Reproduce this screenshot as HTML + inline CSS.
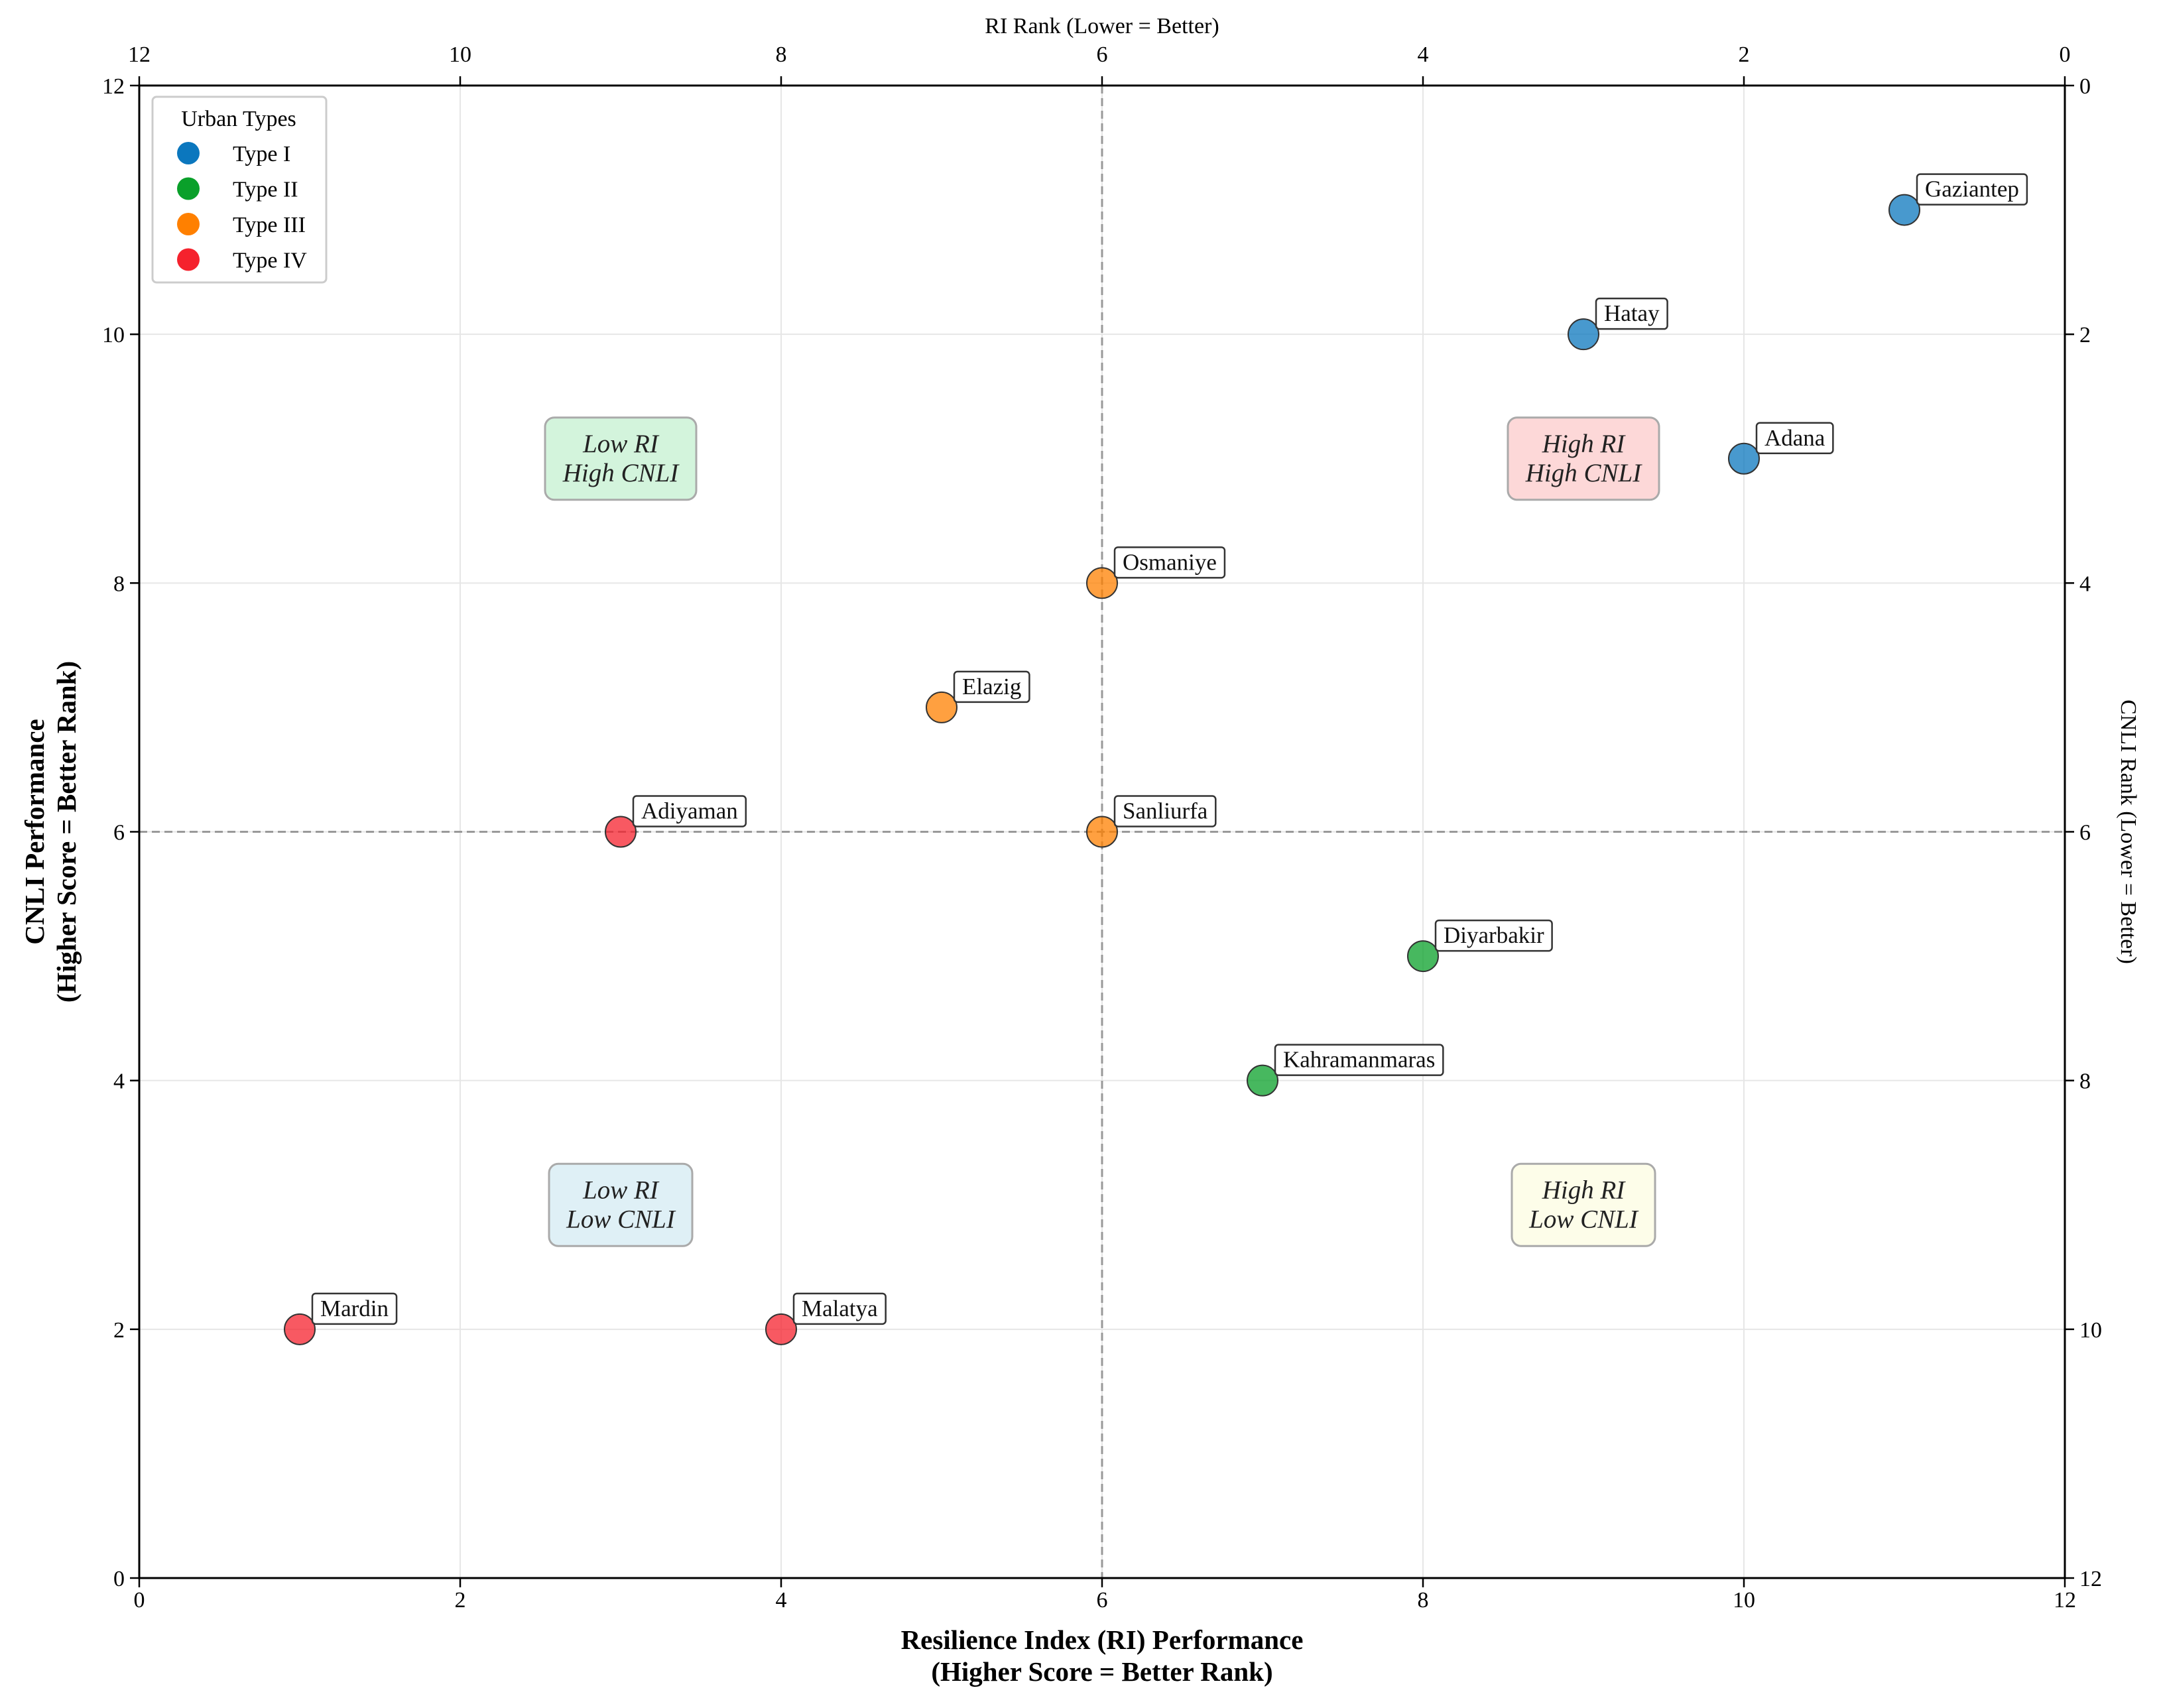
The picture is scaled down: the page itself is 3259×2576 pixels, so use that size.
<!DOCTYPE html>
<html><head><meta charset="utf-8"><style>
html,body{margin:0;padding:0;background:#fff}
svg{display:block;font-family:"Liberation Serif",serif}
</style></head><body>
<svg id="chart" width="3259" height="2576" viewBox="0 0 3259 2576" xmlns="http://www.w3.org/2000/svg"></svg>
<script>
const cities = ["Gaziantep","Hatay","Adana","Osmaniye","Elazig","Sanliurfa","Adiyaman","Diyarbakir","Kahramanmaras","Mardin","Malatya"];
const riScore = [11,9,10,6,5,6,3,8,7,1,4];
const cnliScore = [11,10,9,8,7,6,6,5,4,2,2];
const urbanType = [0,0,0,2,2,2,3,1,1,3,3];
const typeNames = ["Type I","Type II","Type III","Type IV"];
const typeColors = ["#0b77be","#0aa02a","#ff8000","#f5222d"];
const xTicks = [0,2,4,6,8,10,12];
const yTicks = [0,2,4,6,8,10,12];
const topTickLabels = ["12","10","8","6","4","2","0"];
const rightTickLabels = ["12","10","8","6","4","2","0"];

const L=210,R=3114,T=129,B=2380;
const sx=v=>L+(v-0)/(12-0)*(R-L);
const sy=v=>B-(v-0)/(12-0)*(B-T);
const svg=document.getElementById('chart');
const NS="http://www.w3.org/2000/svg";
function el(tag,attrs,parent){const e=document.createElementNS(NS,tag);for(const k in attrs)e.setAttribute(k,attrs[k]);(parent||svg).appendChild(e);return e;}
function txt(s,attrs,parent){const e=el('text',attrs,parent);e.textContent=s;return e;}

const grid=el('g',{});


xTicks.forEach(v=>{const l=el('line',{x1:sx(v),x2:sx(v),y1:T,y2:B,stroke:"#e6e6e6","stroke-width":2},grid);

});
yTicks.forEach(v=>{const l=el('line',{x1:L,x2:R,y1:sy(v),y2:sy(v),stroke:"#e6e6e6","stroke-width":2},grid);

});

const dv=el('line',{x1:sx(6),x2:sx(6),y1:T,y2:B,stroke:"#999","stroke-width":3,"stroke-dasharray":"12,7"});


const dh=el('line',{x1:L,x2:R,y1:sy(6),y2:sy(6),stroke:"#999","stroke-width":3,"stroke-dasharray":"12,7"});



const quads=[
 {x:3,y:9,l1:"Low RI",l2:"High CNLI",fill:"#d3f4dc",w:228,n:"quadrant-low-ri-high-cnli"},
 {x:9,y:9,l1:"High RI",l2:"High CNLI",fill:"#fdd8d8",w:228,n:"quadrant-high-ri-high-cnli"},
 {x:3,y:3,l1:"Low RI",l2:"Low CNLI",fill:"#dff0f6",w:216,n:"quadrant-low-ri-low-cnli"},
 {x:9,y:3,l1:"High RI",l2:"Low CNLI",fill:"#fdfde9",w:216,n:"quadrant-high-ri-low-cnli"}];
quads.forEach(q=>{
 const g=el('g',{});
 
 
 const cx=sx(q.x),cy=sy(q.y);
 el('rect',{x:cx-q.w/2,y:cy-62,width:q.w,height:124,rx:14,fill:q.fill,stroke:"#aaa","stroke-width":3},g);
 txt(q.l1,{x:cx,y:cy-10,"text-anchor":"middle","font-size":39,"font-style":"italic",fill:"#222"},g);
 txt(q.l2,{x:cx,y:cy+34,"text-anchor":"middle","font-size":39,"font-style":"italic",fill:"#222"},g);
});

cities.forEach((c,i)=>{
 const cx=sx(riScore[i]),cy=sy(cnliScore[i]);
 const p=el('circle',{cx:cx,cy:cy,r:23,fill:typeColors[urbanType[i]],"fill-opacity":0.75,stroke:"#333","stroke-width":2});
 
 
 const g=el('g',{});
 
 
 const r=el('rect',{x:cx+19,y:cy-54,width:10,height:46,rx:5,fill:"#fff",stroke:"#333","stroke-width":2.5},g);
 const t=txt(c,{x:cx+31,y:cy-20,"font-size":35,fill:"#111"},g);
 const w=t.getComputedTextLength();
 r.setAttribute('width',w+24);
});

const fr=el('rect',{x:L,y:T,width:R-L,height:B-T,fill:"none",stroke:"#000","stroke-width":3});



xTicks.forEach((v,i)=>{
 el('line',{x1:sx(v),x2:sx(v),y1:B,y2:B+14,stroke:"#000","stroke-width":2.5});
 const t=txt(String(v),{x:sx(v),y:B+44,"text-anchor":"middle","font-size":34});
 
 
 el('line',{x1:sx(v),x2:sx(v),y1:T,y2:T-14,stroke:"#000","stroke-width":2.5});
 const t2=txt(topTickLabels[i],{x:sx(v),y:T-36,"text-anchor":"middle","font-size":34});
 
 
});
yTicks.forEach((v,i)=>{
 el('line',{x1:L,x2:L-14,y1:sy(v),y2:sy(v),stroke:"#000","stroke-width":2.5});
 const t=txt(String(v),{x:L-22,y:sy(v)+12,"text-anchor":"end","font-size":34});
 
 
 el('line',{x1:R,x2:R+14,y1:sy(v),y2:sy(v),stroke:"#000","stroke-width":2.5});
 const t2=txt(rightTickLabels[i],{x:R+22,y:sy(v)+12,"text-anchor":"start","font-size":34});
 
 
});

const xt=txt("Resilience Index (RI) Performance",{x:(L+R)/2,y:2487,"text-anchor":"middle","font-size":41,"font-weight":"bold"});


const xt2=txt("(Higher Score = Better Rank)",{x:(L+R)/2,y:2535,"text-anchor":"middle","font-size":41,"font-weight":"bold"});


const yt=el('text',{transform:"translate(100,"+(T+B)/2+") rotate(-90)","text-anchor":"middle","font-size":41,"font-weight":"bold"});


const ts1=el('tspan',{x:0,y:-34},yt);ts1.textContent="CNLI Performance";
const ts2=el('tspan',{x:0,y:14},yt);ts2.textContent="(Higher Score = Better Rank)";
const tt=txt("RI Rank (Lower = Better)",{x:(L+R)/2,y:50,"text-anchor":"middle","font-size":34});


const rt=txt("CNLI Rank (Lower = Better)",{transform:"translate(3199,"+(T+B)/2+") rotate(90)","text-anchor":"middle","font-size":34});



const lg=el('g',{});


el('rect',{x:230,y:146,width:262,height:280,rx:6,fill:"#fff","fill-opacity":0.9,stroke:"#ccc","stroke-width":3},lg);
txt("Urban Types",{x:360,y:190,"text-anchor":"middle","font-size":34},lg);
typeNames.forEach((n,i)=>{
 const y=231+i*53.5;
 const e=el('g',{},lg);
 
 
 el('circle',{cx:284,cy:y,r:17,fill:typeColors[i]},e);
 txt(n,{x:351,y:y+12,"font-size":34},e);
});
</script>
</body></html>
